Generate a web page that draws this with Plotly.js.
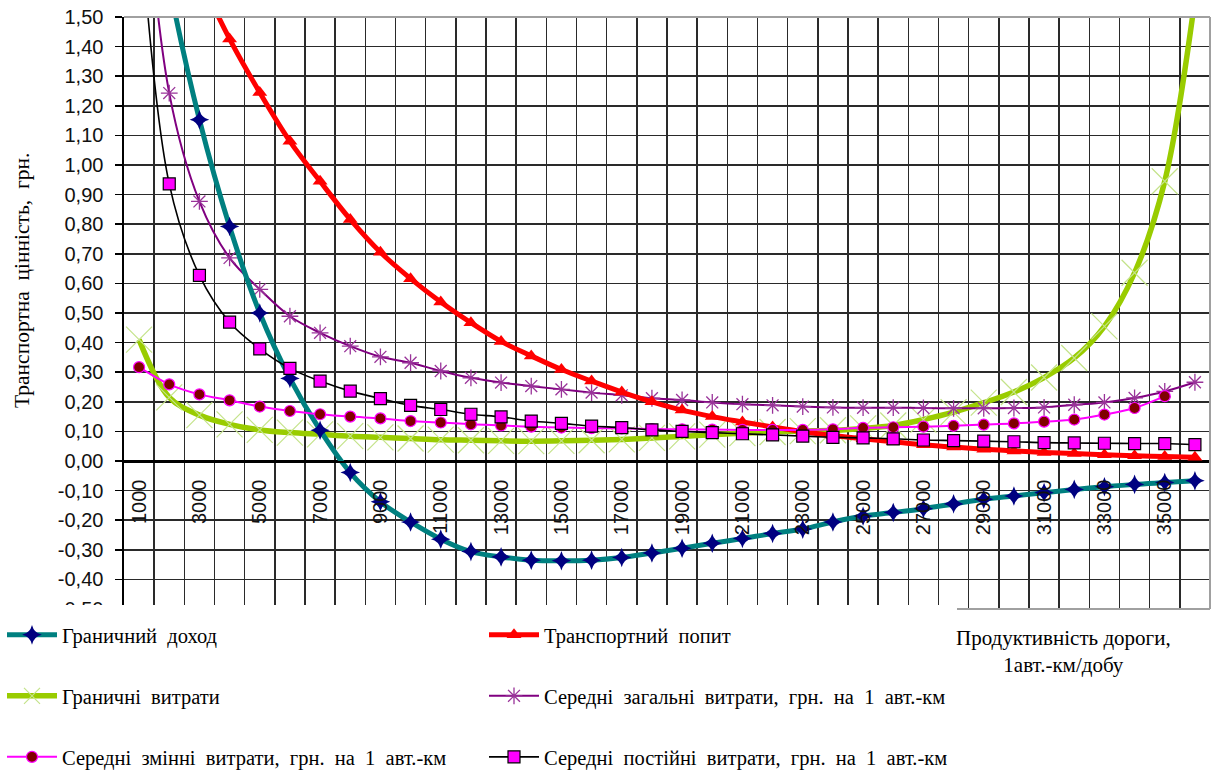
<!DOCTYPE html>
<html>
<head>
<meta charset="utf-8">
<script src="https://cdn.plot.ly/plotly-3.0.1.min.js"></script>
<style>
html,body{margin:0;padding:0;background:#ffffff;}
#chart{width:1215px;height:774px;}
</style>
</head>
<body>
<div id="chart"></div>
<script>
// Road productivity, vehicle-km per day (categories)
const volumes = [1000,2000,3000,4000,5000,6000,7000,8000,9000,10000,11000,12000,
  13000,14000,15000,16000,17000,18000,19000,20000,21000,22000,23000,24000,
  25000,26000,27000,28000,29000,30000,31000,32000,33000,34000,35000,36000];

// Граничний доход
const marginalRevenue = [2.20,1.61,1.153,0.792,0.500,0.279,0.104,-0.039,-0.138,-0.206,-0.264,-0.306,
  -0.324,-0.335,-0.337,-0.335,-0.326,-0.311,-0.295,-0.278,-0.262,-0.245,-0.230,-0.206,
  -0.186,-0.174,-0.161,-0.145,-0.129,-0.118,-0.107,-0.096,-0.087,-0.079,-0.073,-0.067];

// Транспортний попит
const transportDemand = [2.17,1.89,1.64,1.426,1.245,1.080,0.945,0.816,0.705,0.616,0.537,0.467,
  0.404,0.355,0.309,0.270,0.233,0.200,0.172,0.150,0.132,0.115,0.099,0.086,
  0.075,0.065,0.055,0.047,0.040,0.034,0.029,0.025,0.021,0.018,0.015,0.013];

// Граничні витрати
const marginalCost = [0.410,0.215,0.155,0.124,0.105,0.096,0.090,0.084,0.080,0.076,0.072,0.070,
  0.068,0.067,0.068,0.070,0.073,0.078,0.083,0.089,0.094,0.098,0.101,0.104,
  0.110,0.120,0.140,0.165,0.197,0.233,0.282,0.348,0.455,0.636,0.945,1.56];

// Середні загальні витрати, грн. на 1 авт.-км
const avgTotalCost = [2.19,1.243,0.877,0.686,0.580,0.489,0.433,0.388,0.352,0.332,0.304,0.281,
  0.265,0.253,0.242,0.231,0.222,0.212,0.206,0.198,0.192,0.188,0.184,0.181,
  0.180,0.180,0.179,0.178,0.178,0.179,0.181,0.190,0.198,0.213,0.235,0.266];

// Середні змінні витрати, грн. на 1 авт.-км
const avgVariableCost = [0.317,0.259,0.225,0.205,0.184,0.169,0.158,0.150,0.144,0.135,0.130,0.124,
  0.120,0.116,0.113,0.111,0.110,0.108,0.107,0.106,0.105,0.105,0.105,0.107,
  0.112,0.114,0.116,0.119,0.123,0.127,0.133,0.140,0.157,0.179,0.219,null];

// Середні постійні витрати, грн. на 1 авт.-км
const avgFixedCost = [1.87,0.936,0.627,0.469,0.379,0.313,0.270,0.236,0.211,0.188,0.174,0.158,
  0.149,0.135,0.127,0.118,0.113,0.105,0.100,0.096,0.092,0.088,0.084,0.080,
  0.078,0.075,0.071,0.069,0.067,0.065,0.062,0.061,0.060,0.059,0.059,0.055];

// Tick labels
const xTickValues = [1000,3000,5000,7000,9000,11000,13000,15000,17000,19000,21000,23000,25000,27000,29000,31000,33000,35000];
const xTickLabels = ['1000','3000','5000','7000','9000','11000','13000','15000','17000','19000','21000','23000','25000','27000','29000','31000','33000','35000'];
const yTickValues = [-0.5,-0.4,-0.3,-0.2,-0.1,0,0.1,0.2,0.3,0.4,0.5,0.6,0.7,0.8,0.9,1.0,1.1,1.2,1.3,1.4,1.5];
const yTickLabels = ['-0,50','-0,40','-0,30','-0,20','-0,10','0,00','0,10','0,20','0,30','0,40','0,50','0,60','0,70','0,80','0,90','1,00','1,10','1,20','1,30','1,40','1,50'];

const SANS = 'Liberation Sans, Arial, sans-serif';
const SERIF = 'Liberation Serif, Times New Roman, serif';
const sp = '\u00a0 ';

const traces = [
  {
    name: 'Граничні' + sp + 'витрати', x: volumes, y: marginalCost,
    type: 'scatter', mode: 'lines+markers', legend: 'legend2', legendrank: 3,
    line: {color: '#99cc00', width: 5.5, shape: 'spline', smoothing: 1},
    marker: {symbol: 'x-thin-open', size: 26, color: '#c4e38a', line: {color: '#c4e38a', width: 1.2}}
  },
  {
    name: 'Середні' + sp + 'загальні' + sp + 'витрати,' + sp + 'грн.' + sp + 'на' + sp + '1' + sp + 'авт.-км',
    x: volumes, y: avgTotalCost,
    type: 'scatter', mode: 'lines+markers', legend: 'legend2', legendrank: 4,
    line: {color: '#800080', width: 2, shape: 'spline', smoothing: 1},
    marker: {symbol: 'asterisk-open', size: 14, color: '#993399', line: {color: '#993399', width: 1.3}}
  },
  {
    name: 'Транспортний' + sp + 'попит', x: volumes, y: transportDemand,
    type: 'scatter', mode: 'lines+markers', legend: 'legend', legendrank: 2,
    line: {color: '#ff0000', width: 5, shape: 'spline', smoothing: 1},
    marker: {symbol: 'triangle-up', size: 13, color: '#ff0000'}
  },
  {
    name: 'Граничний' + sp + 'доход', x: volumes, y: marginalRevenue,
    type: 'scatter', mode: 'lines+markers', legend: 'legend', legendrank: 1,
    line: {color: '#008080', width: 5, shape: 'spline', smoothing: 1},
    marker: {symbol: 'star-diamond', size: 14, color: '#000080', line: {width: 0}}
  },
  {
    name: 'Середні' + sp + 'змінні' + sp + 'витрати,' + sp + 'грн.' + sp + 'на' + sp + '1' + sp + 'авт.-км',
    x: volumes, y: avgVariableCost,
    type: 'scatter', mode: 'lines+markers', legend: 'legend3', legendrank: 5,
    line: {color: '#ff00ff', width: 2, shape: 'spline', smoothing: 1},
    marker: {symbol: 'circle', size: 11, color: '#800000', line: {color: '#ff00ff', width: 1.2}}
  },
  {
    name: 'Середні' + sp + 'постійні' + sp + 'витрати,' + sp + 'грн.' + sp + 'на' + sp + '1' + sp + 'авт.-км',
    x: volumes, y: avgFixedCost,
    type: 'scatter', mode: 'lines+markers', legend: 'legend3', legendrank: 6,
    line: {color: '#000000', width: 1.6, shape: 'spline', smoothing: 1},
    marker: {symbol: 'square', size: 12, color: '#ff00ff', line: {color: '#000000', width: 1.2}}
  }
];

// geometry helpers (layout only)
const W = 1215, H = 774, ML = 124, MR = 5, MT = 17, MB = 165;
const PW = W - ML - MR, PH = H - MT - MB;
const px2x = px => (px - ML) / PW;
const px2y = py => (H - MB - py) / PH;

const legendBase = {
  orientation: 'h', xanchor: 'left', yanchor: 'middle',
  x: px2x(2), entrywidth: 417, entrywidthmode: 'pixels', itemwidth: 50,
  font: {family: SERIF, size: 20.5, color: '#000000'},
  bgcolor: 'rgba(0,0,0,0)', borderwidth: 0, traceorder: 'normal'
};

const layout = {
  width: W, height: H,
  margin: {l: ML, r: MR, t: MT, b: MB, pad: 0, autoexpand: false},
  paper_bgcolor: '#ffffff', plot_bgcolor: '#ffffff',
  showlegend: true,
  legend: Object.assign({}, legendBase, {y: px2y(635)}),
  legend2: Object.assign({}, legendBase, {y: px2y(696)}),
  legend3: Object.assign({}, legendBase, {y: px2y(757)}),
  xaxis: {
    type: 'linear', range: [500, 36500], anchor: 'free', position: 0.25,
    tickmode: 'array', tickvals: xTickValues, ticktext: xTickLabels,
    tickangle: -90, ticks: '', ticklabelstandoff: 9,
    tickfont: {family: SANS, size: 20, color: '#111111'},
    showgrid: false, zeroline: false, showline: true, linecolor: '#000000', linewidth: 1.6,
    minor: {tick0: 500, dtick: 1000, showgrid: true, gridcolor: '#2a2a2a', gridwidth: 1.5, ticks: ''},
    fixedrange: true
  },
  yaxis: {
    range: [-0.5, 1.5], tickmode: 'array', tickvals: yTickValues, ticktext: yTickLabels,
    ticks: 'outside', ticklen: 7, tickwidth: 1.5, tickcolor: '#000000', ticklabelstandoff: 8,
    tickfont: {family: SANS, size: 20, color: '#111111'},
    showgrid: true, gridcolor: '#2a2a2a', gridwidth: 1.5,
    zeroline: true, zerolinecolor: '#000000', zerolinewidth: 1.6,
    showline: true, linecolor: '#000000', linewidth: 1.6,
    fixedrange: true
  },
  shapes: [
    {type: 'line', xref: 'paper', yref: 'paper', x0: 0, x1: 1, y0: 1, y1: 1, line: {color: '#a0a0a0', width: 2}, layer: 'above'},
    {type: 'line', xref: 'paper', yref: 'paper', x0: 1, x1: 1, y0: 0, y1: 1, line: {color: '#a0a0a0', width: 2}, layer: 'above'},
    {type: 'line', xref: 'paper', yref: 'paper', x0: 0, x1: 1, y0: 0, y1: 0, line: {color: '#a0a0a0', width: 2}, layer: 'above'},
    {type: 'rect', xref: 'paper', yref: 'paper', x0: px2x(-5), x1: px2x(957), y0: px2y(H + 5), y1: px2y(605),
     fillcolor: '#ffffff', line: {width: 0}, layer: 'above'}
  ],
  annotations: [
    {xref: 'paper', yref: 'paper', x: px2x(22), y: px2y(281), xanchor: 'center', yanchor: 'middle',
     text: 'Транспортна' + sp + 'цінність,' + sp + 'грн.', textangle: -90, showarrow: false,
     font: {family: SERIF, size: 21.5, color: '#000000'}},
    {xref: 'paper', yref: 'paper', x: px2x(1063), y: px2y(651), xanchor: 'center', yanchor: 'middle',
     text: 'Продуктивність дороги,<br>1авт.-км/добу', align: 'center', showarrow: false,
     font: {family: SERIF, size: 21, color: '#000000'}}
  ]
};

Plotly.newPlot('chart', traces, layout, {staticPlot: true, displayModeBar: false});
</script>
</body>
</html>
